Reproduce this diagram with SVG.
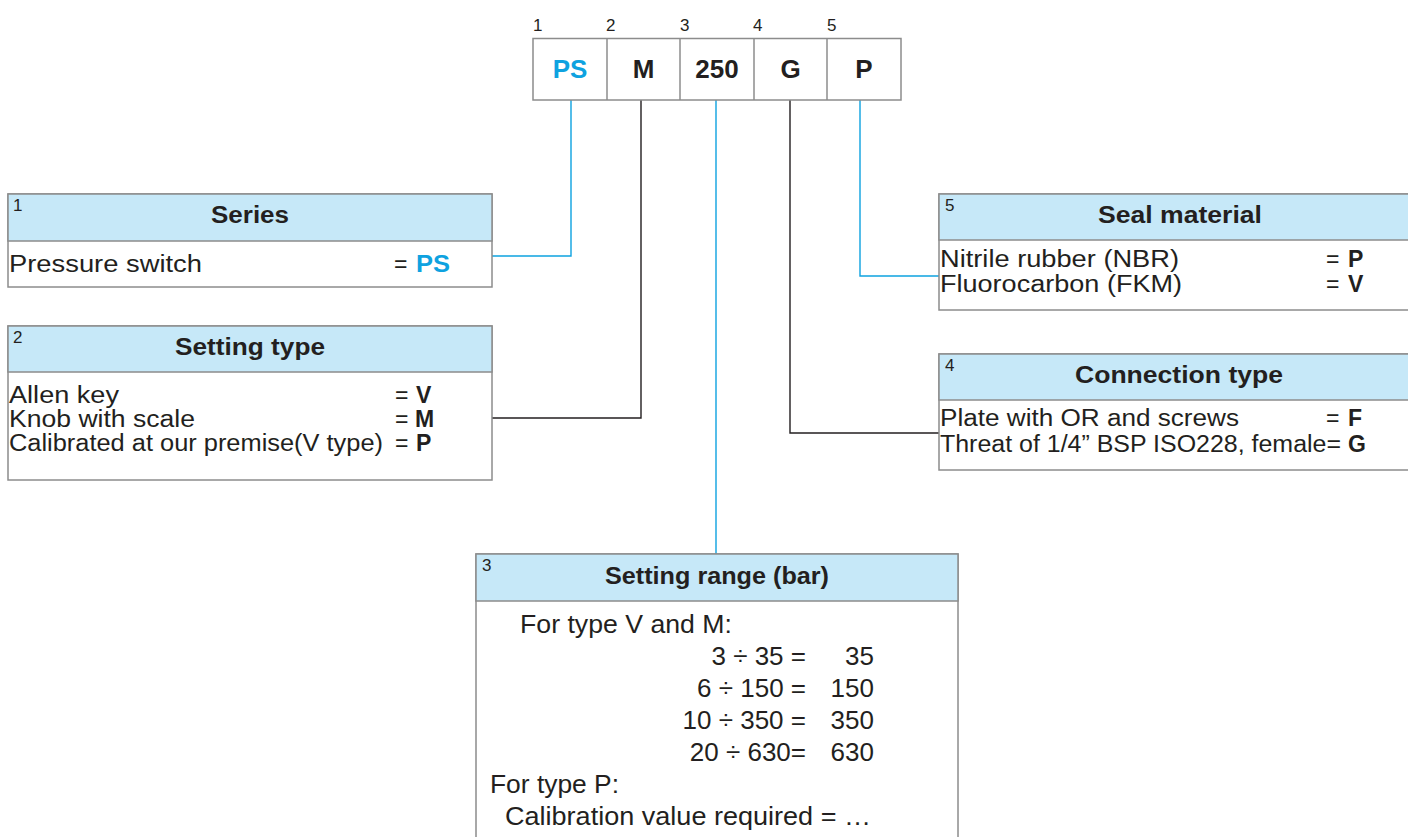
<svg xmlns="http://www.w3.org/2000/svg" width="1408" height="837" viewBox="0 0 1408 837">
<style>
.bx{fill:#ffffff;stroke:#8c8c8c;stroke-width:1.5}
.hd{fill:#c6e8f8;stroke:#8c8c8c;stroke-width:1.5}
.t{font-family:"Liberation Sans",Arial,sans-serif;font-size:23px;fill:#231f20}
.h{font-size:23px}
.b{font-weight:bold}
.n{font-family:"Liberation Sans",Arial,sans-serif;font-size:17px;fill:#231f20}
.big{font-size:26px}
.code{font-family:"Liberation Sans",Arial,sans-serif;font-size:26px;font-weight:bold;fill:#231f20}
.blue{fill:#0ea2e0}
.cb{fill:none;stroke:#0ea2e0;stroke-width:1.4}
.ck{fill:none;stroke:#231f20;stroke-width:1.4}
</style>
<rect width="1408" height="837" fill="#ffffff"/>
<g id="connectors">
<path class="cb" d="M571 100 V256 H492"/>
<path class="ck" d="M641 100 V418 H492"/>
<path class="cb" d="M716 100 V554"/>
<path class="ck" d="M790 100 V433 H939"/>
<path class="cb" d="M860 100 V276 H939"/>
</g>
<g id="code">
<rect class="bx" x="533" y="38.5" width="368" height="61.5"/>
<line x1="607" y1="38.5" x2="607" y2="100" stroke="#8c8c8c" stroke-width="1.5"/>
<line x1="680" y1="38.5" x2="680" y2="100" stroke="#8c8c8c" stroke-width="1.5"/>
<line x1="754" y1="38.5" x2="754" y2="100" stroke="#8c8c8c" stroke-width="1.5"/>
<line x1="827" y1="38.5" x2="827" y2="100" stroke="#8c8c8c" stroke-width="1.5"/>
<text class="n" x="533" y="31" font-size="19">1</text>
<text class="n" x="606" y="31" font-size="19">2</text>
<text class="n" x="680" y="31" font-size="19">3</text>
<text class="n" x="753" y="31" font-size="19">4</text>
<text class="n" x="827" y="31" font-size="19">5</text>
<text class="code blue" x="570" y="78" text-anchor="middle">PS</text>
<text class="code" x="643.5" y="78" text-anchor="middle">M</text>
<text class="code" x="717" y="78" text-anchor="middle">250</text>
<text class="code" x="790.5" y="78" text-anchor="middle">G</text>
<text class="code" x="864" y="78" text-anchor="middle">P</text>
</g>
<g id="series">
<rect class="bx" x="8" y="194" width="484" height="93"/>
<rect class="hd" x="8" y="194" width="484" height="47"/>
<text class="n" x="13" y="211">1</text>
<text class="t h b" x="250" y="223" text-anchor="middle" textLength="78" lengthAdjust="spacingAndGlyphs">Series</text>
<text class="t" x="9" y="272" textLength="193" lengthAdjust="spacingAndGlyphs">Pressure switch</text>
<text class="t" x="394" y="272">=</text>
<text class="t b blue" x="416" y="272" textLength="34" lengthAdjust="spacingAndGlyphs">PS</text>
</g>
<g id="setting-type">
<rect class="bx" x="8" y="326" width="484" height="154"/>
<rect class="hd" x="8" y="326" width="484" height="46"/>
<text class="n" x="13" y="343">2</text>
<text class="t h b" x="250" y="355" text-anchor="middle" textLength="150" lengthAdjust="spacingAndGlyphs">Setting type</text>
<text class="t" x="9" y="403" textLength="110" lengthAdjust="spacingAndGlyphs">Allen key</text>
<text class="t" x="9" y="427" textLength="186" lengthAdjust="spacingAndGlyphs">Knob with scale</text>
<text class="t" x="9" y="451" textLength="374" lengthAdjust="spacingAndGlyphs">Calibrated at our premise(V type)</text>
<text class="t" x="395" y="403">=</text>
<text class="t" x="395" y="427">=</text>
<text class="t" x="395" y="451">=</text>
<text class="t b" x="416" y="403">V</text>
<text class="t b" x="415" y="427">M</text>
<text class="t b" x="416" y="451">P</text>
</g>
<g id="seal-material">
<rect class="bx" x="939" y="194" width="480" height="116"/>
<rect class="hd" x="939" y="194" width="480" height="46"/>
<text class="n" x="945" y="211">5</text>
<text class="t h b" x="1180" y="223" text-anchor="middle" textLength="164" lengthAdjust="spacingAndGlyphs">Seal material</text>
<text class="t" x="940" y="267" textLength="239" lengthAdjust="spacingAndGlyphs">Nitrile rubber (NBR)</text>
<text class="t" x="940" y="292" textLength="242" lengthAdjust="spacingAndGlyphs">Fluorocarbon (FKM)</text>
<text class="t" x="1326" y="267">=</text>
<text class="t" x="1326" y="292">=</text>
<text class="t b" x="1348" y="267">P</text>
<text class="t b" x="1348" y="292">V</text>
</g>
<g id="connection-type">
<rect class="bx" x="939" y="354" width="480" height="116"/>
<rect class="hd" x="939" y="354" width="480" height="46"/>
<text class="n" x="945" y="371">4</text>
<text class="t h b" x="1179" y="383" text-anchor="middle" textLength="208" lengthAdjust="spacingAndGlyphs">Connection type</text>
<text class="t" x="940" y="426" textLength="299" lengthAdjust="spacingAndGlyphs">Plate with OR and screws</text>
<text class="t" x="1326" y="426">=</text>
<text class="t b" x="1348" y="426">F</text>
<text class="t" x="940" y="452" textLength="401" lengthAdjust="spacingAndGlyphs">Threat of 1/4” BSP ISO228, female=</text>
<text class="t b" x="1348" y="452">G</text>
</g>
<g id="setting-range">
<rect class="bx" x="476" y="554" width="482" height="300"/>
<rect class="hd" x="476" y="554" width="482" height="47"/>
<text class="n" x="482" y="571">3</text>
<text class="t h b" x="717" y="584" text-anchor="middle" textLength="224" lengthAdjust="spacingAndGlyphs">Setting range (bar)</text>
<text class="t big" x="520" y="633" textLength="212" lengthAdjust="spacingAndGlyphs">For type V and M:</text>
<text class="t big" x="806" y="665" text-anchor="end">3 ÷ 35 =</text>
<text class="t big" x="874" y="665" text-anchor="end">35</text>
<text class="t big" x="806" y="697" text-anchor="end">6 ÷ 150 =</text>
<text class="t big" x="874" y="697" text-anchor="end">150</text>
<text class="t big" x="806" y="729" text-anchor="end">10 ÷ 350 =</text>
<text class="t big" x="874" y="729" text-anchor="end">350</text>
<text class="t big" x="806" y="761" text-anchor="end">20 ÷ 630=</text>
<text class="t big" x="874" y="761" text-anchor="end">630</text>
<text class="t big" x="490" y="793" textLength="129" lengthAdjust="spacingAndGlyphs">For type P:</text>
<text class="t big" x="505" y="825" textLength="366" lengthAdjust="spacingAndGlyphs">Calibration value required  = …</text>
</g>
</svg>
